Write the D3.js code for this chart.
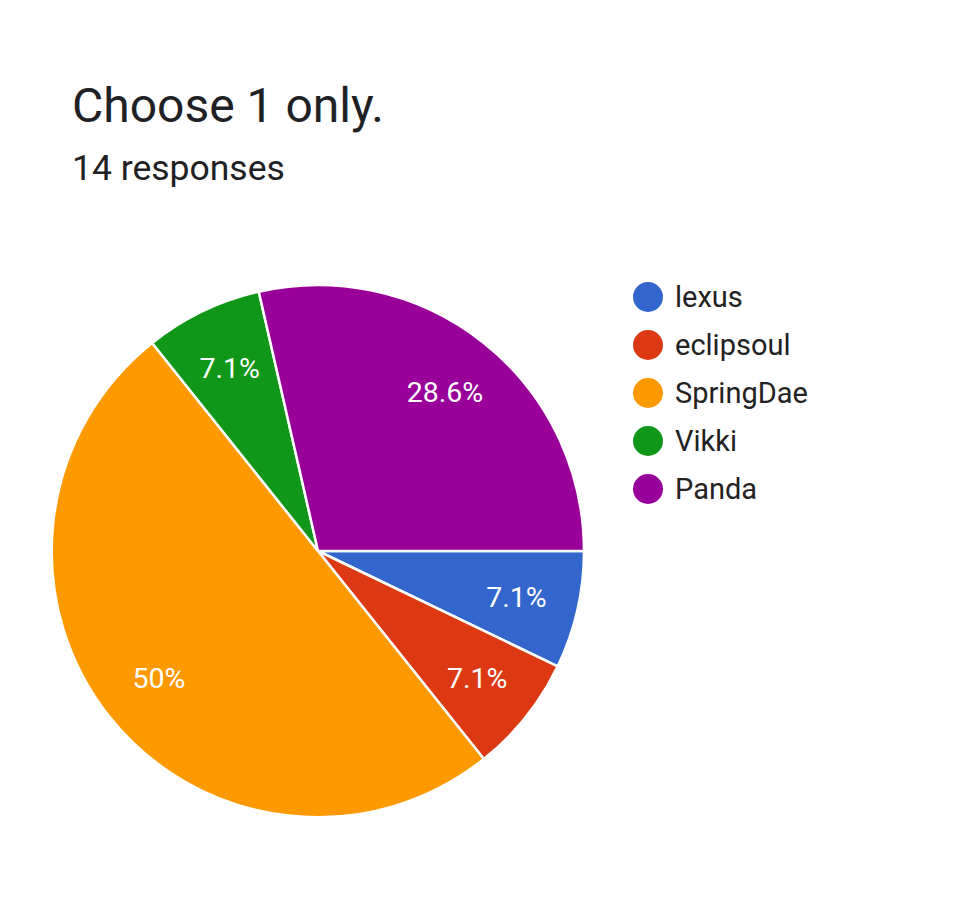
<!DOCTYPE html>
<html><head><meta charset="utf-8">
<script src="https://cdn.jsdelivr.net/npm/d3@7"></script>
<style>body{margin:0;background:#fff;}svg{display:block;}</style>
</head><body>
<svg id="c" width="966" height="924"></svg>
<script>
const categories = ["lexus", "eclipsoul", "SpringDae", "Vikki", "Panda"];
const values = [1, 1, 7, 1, 4];
const labels = ["7.1%", "7.1%", "50%", "7.1%", "28.6%"];
const colors = ["#3366cc", "#dc3912", "#ff9900", "#109618", "#990099"];

const svg = d3.select("#c");
const font = "Roboto, 'Noto Sans', sans-serif";
svg.append("text").attr("x", 72).attr("y", 122).attr("font-family", font)
  .attr("font-size", 48).attr("fill", "#202124").text("Choose 1 only.");
svg.append("text").attr("x", 72).attr("y", 180).attr("font-family", font)
  .attr("font-size", 35.5).attr("fill", "#202124").text("14 responses");

const cx = 318, cy = 551, r = 266;
const data = categories.map((c, i) => ({c, v: values[i], l: labels[i], col: colors[i]}));
const pie = d3.pie().value(d => d.v).sort(null)
  .startAngle(Math.PI / 2).endAngle(Math.PI / 2 + 2 * Math.PI);
const arcs = pie(data);
const arc = d3.arc().innerRadius(0).outerRadius(r);
const labelArc = d3.arc().innerRadius(r * 0.765).outerRadius(r * 0.765);
const g = svg.append("g").attr("transform", `translate(${cx},${cy})`);
g.selectAll("path").data(arcs).join("path")
  .attr("d", arc).attr("fill", d => d.data.col)
  .attr("stroke", "#fff").attr("stroke-width", 2.5).attr("stroke-linejoin", "round");
g.selectAll("text").data(arcs).join("text")
  .attr("transform", d => `translate(${labelArc.centroid(d)})`)
  .attr("text-anchor", "middle").attr("dy", "0.36em")
  .attr("font-family", font).attr("font-size", 28.5).attr("fill", "#fff")
  .text(d => d.data.l);

const leg = svg.append("g");
const ly = d3.scalePoint().domain(categories).range([297, 489]);
categories.forEach((c, i) => {
  leg.append("circle").attr("cx", 648).attr("cy", ly(c)).attr("r", 15).attr("fill", colors[i]);
  leg.append("text").attr("x", 675).attr("y", ly(c)).attr("dy", "0.36em")
    .attr("font-family", font).attr("font-size", 29).attr("fill", "#222").text(c);
});
</script>
</body></html>
